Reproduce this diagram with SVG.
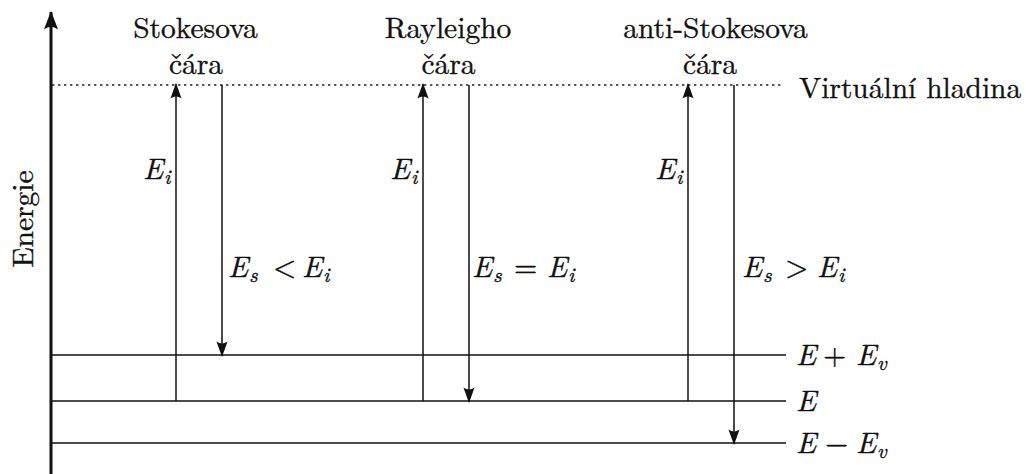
<svg xmlns="http://www.w3.org/2000/svg" width="1030" height="474" viewBox="0 0 1030 474" font-family="'Latin Modern Roman', 'Liberation Serif', serif">
  <style>
    text { font-family: 'Latin Modern Roman', 'Liberation Serif', serif; fill: #111; stroke: #111; stroke-width: 0.35px; }
    .lbl { font-size: 29.5px; }
    .m { font-size: 30px; font-style: italic; }
    .sub { font-size: 21px; font-style: italic; }
    .op { font-size: 30px; }
    .level { stroke: #111; stroke-width: 1.6; fill: none; }
    .trans { stroke: #111; stroke-width: 1.5; fill: none; marker-end: url(#head); }
    .virtual { stroke: #222; stroke-width: 1.3; stroke-dasharray: 2.4 3.6; fill: none; }
  </style>
  <defs>
    <marker id="head" markerUnits="userSpaceOnUse" markerWidth="20" markerHeight="20" viewBox="-16 -8 18 16" refX="0" refY="0" orient="auto">
      <path d="M1,0 L-13,-5 Q-9.5,0 -13,5 Z" fill="#111"/>
    </marker>
    <marker id="axhead" markerUnits="userSpaceOnUse" markerWidth="24" markerHeight="24" viewBox="-20 -10 22 20" refX="0" refY="0" orient="auto">
      <path d="M1,0 L-16,-6.5 Q-11,0 -16,6.5 Z" fill="#111"/>
    </marker>
  </defs>

  <!-- energy axis -->
  <g id="axis">
    <line x1="51" y1="474" x2="51" y2="12" stroke="#111" stroke-width="3" marker-end="url(#axhead)"/>
    <text class="lbl" transform="translate(33,219) rotate(-90)" text-anchor="middle">Energie</text>
  </g>

  <!-- virtual level -->
  <g id="virtual-level">
    <line class="virtual" x1="52" y1="85" x2="784" y2="85"/>
    <text class="lbl" x="799" y="98">Virtuální hladina</text>
  </g>

  <!-- vibrational levels -->
  <g id="level-plus">
    <line class="level" x1="52" y1="355" x2="786" y2="355"/>
    <text class="m" x="796" y="365">E</text>
    <text class="op" x="823" y="365">+</text>
    <text class="m" x="856" y="365">E</text>
    <text class="sub" x="877" y="370">v</text>
  </g>
  <g id="level-ground">
    <line class="level" x1="52" y1="401" x2="786" y2="401"/>
    <text class="m" x="796" y="411">E</text>
  </g>
  <g id="level-minus">
    <line class="level" x1="52" y1="443" x2="786" y2="443"/>
    <text class="m" x="796" y="453">E</text>
    <text class="op" x="825" y="453">−</text>
    <text class="m" x="856" y="453">E</text>
    <text class="sub" x="877" y="458">v</text>
  </g>

  <!-- transitions -->
  <g id="connectors">
    <line class="trans" x1="176" y1="401" x2="176" y2="84"/>
    <line class="trans" x1="222" y1="85" x2="222" y2="356"/>
    <line class="trans" x1="423" y1="401" x2="423" y2="84"/>
    <line class="trans" x1="469" y1="85" x2="469" y2="402"/>
    <line class="trans" x1="688" y1="401" x2="688" y2="84"/>
    <line class="trans" x1="734" y1="85" x2="734" y2="444"/>
  </g>

  <!-- Stokes line -->
  <g id="stokes">
    <text class="lbl" x="195.5" y="38" text-anchor="middle">Stokesova</text>
    <text class="lbl" x="196" y="74" text-anchor="middle">čára</text>
    <text class="m" x="143" y="179">E</text>
    <text class="sub" x="164" y="184">i</text>
    <text class="m" x="228" y="277">E</text>
    <text class="sub" x="249" y="282">s</text>
    <text class="op" x="273" y="277">&lt;</text>
    <text class="m" x="302" y="277">E</text>
    <text class="sub" x="323" y="282">i</text>
  </g>

  <!-- Rayleigh line -->
  <g id="rayleigh">
    <text class="lbl" x="448" y="38" text-anchor="middle">Rayleigho</text>
    <text class="lbl" x="448.5" y="74" text-anchor="middle">čára</text>
    <text class="m" x="390" y="179">E</text>
    <text class="sub" x="411" y="184">i</text>
    <text class="m" x="472" y="277">E</text>
    <text class="sub" x="493" y="282">s</text>
    <text class="op" x="514" y="277">=</text>
    <text class="m" x="547" y="277">E</text>
    <text class="sub" x="568" y="282">i</text>
  </g>

  <!-- anti-Stokes line -->
  <g id="anti-stokes">
    <text class="lbl" x="715.5" y="38" text-anchor="middle">anti-Stokesova</text>
    <text class="lbl" x="710" y="74" text-anchor="middle">čára</text>
    <text class="m" x="655" y="179">E</text>
    <text class="sub" x="676" y="184">i</text>
    <text class="m" x="742" y="277">E</text>
    <text class="sub" x="763" y="282">s</text>
    <text class="op" x="785" y="277">&gt;</text>
    <text class="m" x="817" y="277">E</text>
    <text class="sub" x="838" y="282">i</text>
  </g>
</svg>
